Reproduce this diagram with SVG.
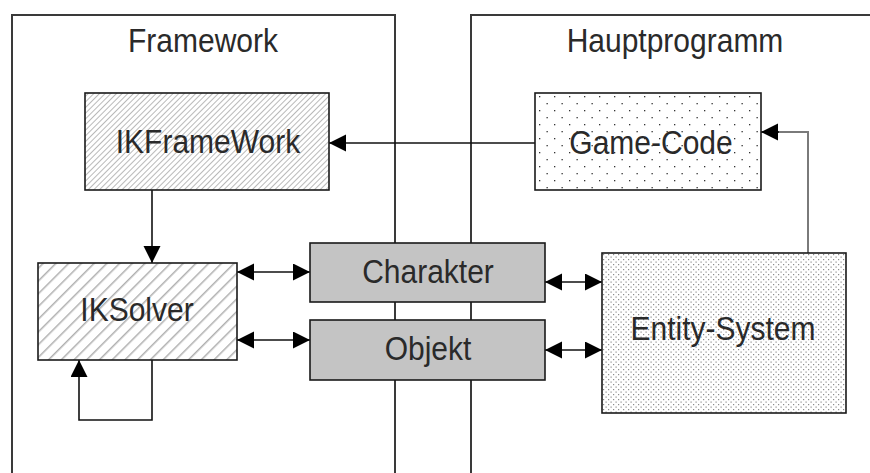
<svg xmlns="http://www.w3.org/2000/svg" width="870" height="473" viewBox="0 0 870 473">
  <style>
    .frame { fill: none; stroke: #3a3a3a; stroke-width: 2; }
    .box { stroke: #1a1a1a; stroke-width: 1.6; }
    .lbl { font-family: "Liberation Sans", Arial, sans-serif; font-size: 30px; fill: #2a2a2a; text-anchor: middle; }
    .wire { fill: none; stroke: #111; stroke-width: 1.6; }
    .wire-gray { fill: none; stroke: #7a7a7a; stroke-width: 2; }
    .one { marker-end: url(#head); }
    .both { marker-start: url(#head); marker-end: url(#head); }
  </style>
  <defs>
    <marker id="head" markerUnits="userSpaceOnUse" markerWidth="18" markerHeight="18" refX="17" refY="8.5" orient="auto-start-reverse">
      <path d="M0,0 L17,8.5 L0,17 z" fill="#000"/>
    </marker>
    <!-- fine diagonal hatch -->
    <pattern id="hatchFine" patternUnits="userSpaceOnUse" width="4" height="4" patternTransform="rotate(45)">
      <rect width="4" height="4" fill="#fff"/>
      <line x1="0" y1="0" x2="0" y2="4" stroke="#8a8a8a" stroke-width="1.2"/>
    </pattern>
    <!-- wide diagonal hatch -->
    <pattern id="hatchWide" patternUnits="userSpaceOnUse" width="9" height="9" patternTransform="rotate(45)">
      <rect width="9" height="9" fill="#fff"/>
      <line x1="0" y1="0" x2="0" y2="9" stroke="#b0b0b0" stroke-width="3"/>
    </pattern>
    <!-- sparse dots -->
    <pattern id="dotsSparse" patternUnits="userSpaceOnUse" width="15" height="14" x="535" y="93">
      <rect width="15" height="14" fill="#fff"/>
      <rect x="4" y="3" width="1.3" height="1.3" fill="#333"/>
      <rect x="11.5" y="10" width="1.3" height="1.3" fill="#333"/>
    </pattern>
    <!-- dense dots -->
    <pattern id="dotsDense" patternUnits="userSpaceOnUse" width="5" height="5" x="602" y="253">
      <rect width="5" height="5" fill="#fff"/>
      <rect x="1" y="1" width="1.2" height="1.2" fill="#8c8c8c"/>
      <rect x="3.5" y="3.5" width="1.2" height="1.2" fill="#8c8c8c"/>
    </pattern>
  </defs>

  <!-- containers -->
  <g id="framework">
    <rect class="frame" x="12" y="15" width="383" height="470"/>
    <text class="lbl" transform="translate(203,52) scale(1,1.08)">Framework</text>
  </g>
  <g id="hauptprogramm">
    <rect class="frame" x="471" y="15" width="420" height="470"/>
    <text class="lbl" transform="translate(675,52) scale(1,1.08)">Hauptprogramm</text>
  </g>

  <!-- connectors -->
  <g id="connectors">
    <path class="wire one" d="M535,143 H329"/>
    <path class="wire-gray" d="M808,253 V132 H778"/>
    <path class="wire one" d="M779,132 H761"/>
    <path class="wire one" d="M152,190 V263"/>
    <path class="wire one" d="M152,360 V420 H79 V360"/>
    <path class="wire both" d="M237,272 H310"/>
    <path class="wire both" d="M237,340 H310"/>
    <path class="wire both" d="M545,282 H602"/>
    <path class="wire both" d="M545,350 H602"/>
  </g>

  <g id="ikframework">
    <rect class="box" x="85" y="93" width="244" height="97" fill="url(#hatchFine)"/>
    <text class="lbl" transform="translate(208,153) scale(1,1.08)">IKFrameWork</text>
  </g>
  <g id="game-code">
    <rect class="box" x="535" y="93" width="226" height="97" fill="url(#dotsSparse)"/>
    <text class="lbl" transform="translate(651,154) scale(1,1.08)">Game-Code</text>
  </g>
  <g id="iksolver">
    <rect class="box" x="38" y="263" width="199" height="97" fill="url(#hatchWide)"/>
    <text class="lbl" transform="translate(137,321) scale(1,1.08)">IKSolver</text>
  </g>
  <g id="charakter">
    <rect class="box" x="310" y="243" width="235" height="59" fill="#c4c4c4"/>
    <text class="lbl" transform="translate(428,283) scale(1,1.08)">Charakter</text>
  </g>
  <g id="objekt">
    <rect class="box" x="310" y="320" width="235" height="60" fill="#c4c4c4"/>
    <text class="lbl" transform="translate(428,360) scale(1,1.08)">Objekt</text>
  </g>
  <g id="entity-system">
    <rect class="box" x="602" y="253" width="244" height="160" fill="url(#dotsDense)"/>
    <text class="lbl" transform="translate(723,340) scale(1,1.08)">Entity-System</text>
  </g>
</svg>
